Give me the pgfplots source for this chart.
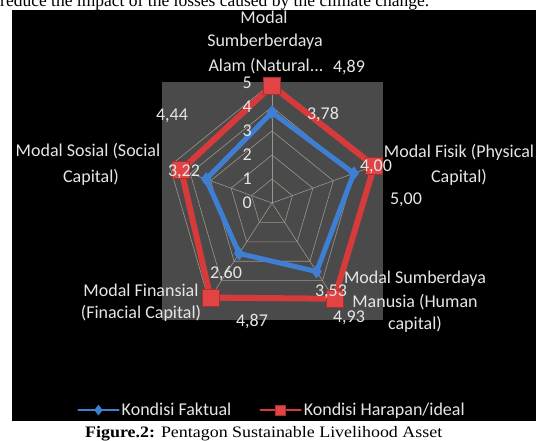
\documentclass[border=0pt]{standalone}
\usepackage{pgfplots}
\pgfplotsset{compat=1.18}
\usepackage{fontspec}
\setmainfont{Carlito}
\newfontfamily\seriffont{Liberation Serif}
\newfontfamily\capfont[FakeStretch=1.12]{Liberation Serif}
\definecolor{plotgray}{HTML}{4A4A4A}
\definecolor{gridc}{HTML}{9A968C}
\definecolor{redS}{HTML}{D63A3A}
\definecolor{redM}{HTML}{E04444}
\definecolor{blueS}{HTML}{3E7ED3}
\definecolor{txt}{HTML}{E6E6E6}
\begin{document}
\begin{tikzpicture}[x=1pt,y=-1pt]
\useasboundingbox (0,0) rectangle (536,440);
\fill[white] (0,0) rectangle (536,440);
\begin{scope}
\clip (0,0) rectangle (536,440);
\node[anchor=base west, inner sep=0, font=\seriffont\fontsize{17.5}{20}\selectfont] at (0,6) {reduce the impact of the losses caused by the climate change.};
\end{scope}
\fill[black] (12,10) rectangle (536,421);
\fill[plotgray] (162,82) rectangle (383,320);

\begin{axis}[at={(272pt,-203pt)}, anchor=center, x=21.5pt, y=24pt,
  xmin=-6, xmax=6, ymin=-6, ymax=6, axis lines=none, ticks=none, clip=false,
  legend style={at={(0.5,-0.219)}, anchor=center, draw=none, fill=none,
    text=txt, font=\fontsize{18}{21}\selectfont, legend columns=2,
    /tikz/every even column/.append style={column sep=26pt},
    inner sep=0pt, cells={anchor=west}},
  legend image code/.code={\draw[mark repeat=2,mark phase=2,#1,line width=2.5pt,mark size=5pt] plot coordinates {(0pt,0pt)(20pt,0pt)(40pt,0pt)};},
  grid line/.style={gridc, line width=0.6pt, data cs=polar, forget plot, mark=none},
]
% pentagon grid
\addplot[grid line] coordinates {(90,1)(18,1)(-54,1)(-126,1)(162,1)(90,1)};
\addplot[grid line] coordinates {(90,2)(18,2)(-54,2)(-126,2)(162,2)(90,2)};
\addplot[grid line] coordinates {(90,3)(18,3)(-54,3)(-126,3)(162,3)(90,3)};
\addplot[grid line] coordinates {(90,4)(18,4)(-54,4)(-126,4)(162,4)(90,4)};
\addplot[grid line] coordinates {(90,5)(18,5)(-54,5)(-126,5)(162,5)(90,5)};
% spokes
\addplot[grid line] coordinates {(0,0)(90,5)};
\addplot[grid line] coordinates {(0,0)(18,5)};
\addplot[grid line] coordinates {(0,0)(-54,5)};
\addplot[grid line] coordinates {(0,0)(-126,5)};
\addplot[grid line] coordinates {(0,0)(162,5)};
% series
\addplot[blueS, line width=5pt, line join=round, line cap=round, data cs=polar,
  mark=diamond*, mark size=6.5pt, mark options={fill=blueS, draw=blueS, line width=0.5pt}]
  coordinates {(90,3.78)(18,4.00)(-54,3.53)(-126,2.60)(162,3.22)(90,3.78)};
\addlegendentry{Kondisi Faktual}
\addplot[redS, line width=6pt, line join=round, line cap=round, data cs=polar,
  mark=square*, mark size=8.5pt, mark options={fill=redM, draw=redS!80!black, line width=0.6pt}]
  coordinates {(90,4.89)(18,5.00)(-54,4.93)(-126,4.87)(162,4.44)(90,4.89)};
\addlegendentry{Kondisi Harapan/ideal}
% radial tick labels
\foreach \k in {0,...,5}{
  \edef\temp{\noexpand\node[anchor=east, inner sep=0pt, text=txt, font=\noexpand\fontsize{18}{21}\noexpand\selectfont] at (axis cs:-0.93,\k) {\k};}
  \temp
}
\end{axis}

\begin{scope}[every node/.style={text=txt, inner sep=0pt, anchor=base, font=\fontsize{18}{21}\selectfont}]
% category labels
\node at (264,23) {Modal};
\node at (265,46.5) {Sumberberdaya};
\node at (266,71) {Alam (Natural...};
\node at (459,157) {Modal Fisik (Physical};
\node at (459,182) {Capital)};
\node at (415,283) {Modal Sumberdaya};
\node at (415,307) {Manusia (Human};
\node at (415,329) {capital)};
\node at (141,296) {Modal Finansial};
\node at (141,318) {(Finacial Capital)};
\node at (88,156) {Modal Sosial (Social};
\node at (91,182) {Capital)};
% data labels
\node at (349,72) {4,89};
\node at (323,119) {3,78};
\node at (172,120) {4,44};
\node at (184,176) {3,22};
\node at (376,171) {4,00};
\node at (406,204) {5,00};
\node at (331,296) {3,53};
\node at (349,322) {4,93};
\node at (226,278) {2,60};
\node at (252,326) {4,87};
\end{scope}

\node[anchor=base west, inner sep=0, font=\capfont\fontsize{16}{18}\selectfont] at (85,437) {\textbf{Figure.2:} Pentagon Sustainable Livelihood Asset};
\end{tikzpicture}
\end{document}
